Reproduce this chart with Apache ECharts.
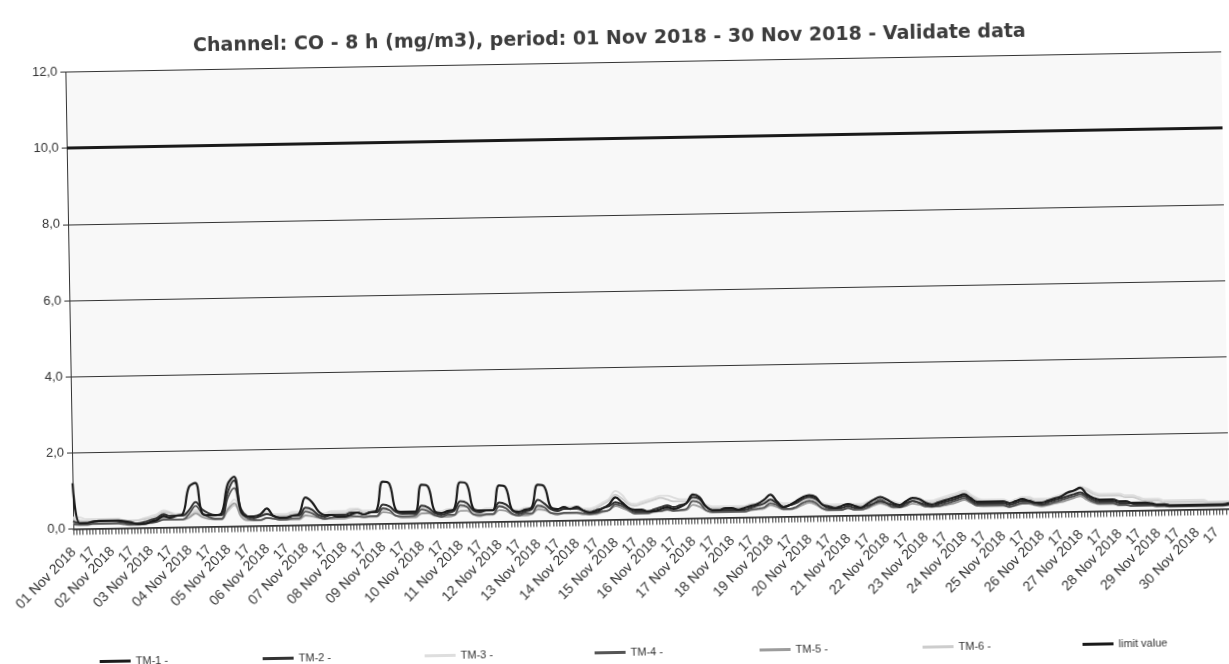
<!DOCTYPE html>
<html>
<head>
<meta charset="utf-8">
<script src="https://cdn.jsdelivr.net/npm/echarts@6/dist/echarts.min.js"></script>
<style>
html,body{margin:0;padding:0;background:#fff;overflow:hidden;}
#wrap{width:1229px;height:664px;transform:rotate(-1deg);transform-origin:50% 50%;}
#chart{width:1229px;height:664px;}
</style>
</head>
<body>
<div id="wrap"><div id="chart"></div></div>
<script>
const titleText = 'Channel: CO - 8 h (mg/m3), period: 01 Nov 2018 - 30 Nov 2018 - Validate data';
const days = ['01','02','03','04','05','06','07','08','09','10','11','12','13','14','15','16','17','18','19','20','21','22','23','24','25','26','27','28','29','30'].map(d => d + ' Nov 2018');
const hours = ['00','04','08','17','20','22'];
const tickHours = ['00','02','04','06','08','10','12','14','16','18','20','22'];
const hourLabel = '17';
const yTicks = [0, 2, 4, 6, 8, 10, 12];
const limitValue = 10;
const seriesNames = ['TM-1 -','TM-2 -','TM-3 -','TM-4 -','TM-5 -','TM-6 -','limit value'];

const tm1 = [
1.2,0.15,0.15,0.18,0.2,0.2,
0.2,0.2,0.18,0.15,0.1,0.1,
0.15,0.2,0.3,0.25,0.3,0.35,
1.05,1.15,0.35,0.3,0.3,0.35,
1.1,1.3,0.4,0.25,0.25,0.3,
0.45,0.25,0.2,0.2,0.25,0.3,
0.72,0.6,0.35,0.25,0.25,0.2,
0.2,0.25,0.3,0.25,0.3,0.35,
1.1,1.05,0.35,0.3,0.3,0.3,
1.0,0.95,0.3,0.25,0.3,0.35,
1.05,1.0,0.35,0.3,0.3,0.3,
0.95,0.9,0.3,0.25,0.3,0.35,
0.95,0.9,0.35,0.3,0.35,0.3,
0.35,0.25,0.2,0.25,0.3,0.4,
0.58,0.45,0.3,0.25,0.25,0.2,
0.2,0.25,0.3,0.25,0.3,0.4,
0.62,0.55,0.3,0.2,0.2,0.25,
0.25,0.2,0.25,0.3,0.35,0.45,
0.58,0.4,0.25,0.3,0.4,0.5,
0.55,0.5,0.3,0.25,0.2,0.25,
0.3,0.25,0.2,0.3,0.4,0.47,
0.4,0.3,0.25,0.35,0.43,0.4,
0.3,0.25,0.3,0.35,0.4,0.45,
0.5,0.4,0.3,0.3,0.3,0.3,
0.3,0.25,0.3,0.35,0.3,0.25,
0.25,0.3,0.35,0.4,0.5,0.55,
0.62,0.45,0.35,0.3,0.3,0.3,
0.25,0.25,0.2,0.2,0.2,0.18,
0.15,0.15,0.12,0.12,0.12,0.12,
0.12,0.12,0.12,0.12,0.12,0.15];

const tm2 = [
0.2,0.15,0.15,0.18,0.2,0.2,
0.2,0.18,0.15,0.12,0.12,0.15,
0.2,0.25,0.35,0.3,0.3,0.3,
0.45,0.65,0.45,0.35,0.3,0.3,
0.9,1.2,0.45,0.25,0.2,0.25,
0.3,0.25,0.2,0.2,0.25,0.25,
0.45,0.4,0.25,0.2,0.25,0.25,
0.25,0.3,0.3,0.25,0.3,0.3,
0.5,0.45,0.3,0.25,0.25,0.25,
0.45,0.4,0.25,0.2,0.25,0.3,
0.55,0.5,0.3,0.25,0.3,0.3,
0.5,0.45,0.3,0.2,0.25,0.3,
0.55,0.45,0.3,0.25,0.3,0.3,
0.3,0.25,0.2,0.2,0.3,0.35,
0.45,0.4,0.3,0.2,0.2,0.2,
0.25,0.3,0.35,0.3,0.35,0.4,
0.55,0.5,0.3,0.2,0.2,0.2,
0.2,0.2,0.2,0.25,0.3,0.35,
0.45,0.35,0.25,0.3,0.35,0.45,
0.5,0.45,0.3,0.2,0.2,0.2,
0.25,0.2,0.2,0.25,0.3,0.35,
0.3,0.25,0.2,0.3,0.35,0.3,
0.25,0.2,0.25,0.3,0.35,0.4,
0.45,0.35,0.25,0.25,0.25,0.25,
0.25,0.2,0.25,0.3,0.3,0.25,
0.2,0.25,0.3,0.35,0.4,0.45,
0.5,0.4,0.3,0.25,0.25,0.25,
0.2,0.2,0.18,0.15,0.15,0.15,
0.12,0.12,0.1,0.1,0.1,0.1,
0.1,0.1,0.1,0.1,0.1,0.12];

const tm3 = [
0.3,0.3,0.25,0.25,0.25,0.25,
0.25,0.25,0.2,0.2,0.2,0.25,
0.3,0.35,0.45,0.4,0.35,0.35,
0.4,0.45,0.35,0.3,0.3,0.3,
0.5,0.7,0.35,0.25,0.25,0.3,
0.35,0.3,0.3,0.3,0.35,0.35,
0.4,0.35,0.3,0.3,0.35,0.35,
0.35,0.4,0.4,0.35,0.35,0.35,
0.4,0.4,0.35,0.3,0.3,0.3,
0.4,0.4,0.3,0.3,0.35,0.35,
0.45,0.45,0.35,0.3,0.35,0.35,
0.45,0.4,0.3,0.3,0.35,0.35,
0.4,0.4,0.35,0.3,0.35,0.35,
0.35,0.3,0.3,0.35,0.45,0.55,
0.75,0.65,0.45,0.4,0.45,0.5,
0.55,0.6,0.6,0.55,0.5,0.5,
0.5,0.45,0.35,0.3,0.3,0.3,
0.3,0.3,0.3,0.35,0.35,0.4,
0.45,0.4,0.35,0.35,0.4,0.45,
0.5,0.45,0.35,0.3,0.3,0.3,
0.3,0.3,0.3,0.35,0.4,0.4,
0.4,0.35,0.3,0.35,0.4,0.4,
0.35,0.35,0.4,0.45,0.5,0.55,
0.6,0.5,0.4,0.35,0.35,0.35,
0.35,0.3,0.35,0.4,0.4,0.35,
0.35,0.35,0.4,0.45,0.5,0.55,
0.65,0.6,0.5,0.45,0.45,0.45,
0.45,0.4,0.4,0.35,0.3,0.3,
0.3,0.25,0.25,0.25,0.25,0.25,
0.25,0.25,0.2,0.2,0.2,0.2];

const tm4 = [
0.12,0.1,0.1,0.12,0.12,0.12,
0.12,0.12,0.1,0.08,0.08,0.1,
0.12,0.15,0.2,0.2,0.2,0.2,
0.35,0.55,0.35,0.25,0.2,0.2,
0.75,1.0,0.35,0.2,0.15,0.15,
0.2,0.18,0.15,0.15,0.18,0.18,
0.35,0.3,0.2,0.15,0.18,0.2,
0.2,0.22,0.2,0.18,0.2,0.2,
0.4,0.35,0.2,0.18,0.18,0.2,
0.35,0.3,0.2,0.15,0.2,0.2,
0.45,0.4,0.2,0.18,0.2,0.2,
0.4,0.35,0.2,0.15,0.2,0.2,
0.4,0.35,0.2,0.18,0.2,0.2,
0.2,0.18,0.15,0.18,0.22,0.25,
0.4,0.35,0.25,0.15,0.15,0.15,
0.2,0.2,0.25,0.2,0.22,0.25,
0.45,0.4,0.2,0.15,0.15,0.15,
0.15,0.15,0.15,0.2,0.22,0.25,
0.35,0.3,0.2,0.2,0.25,0.35,
0.4,0.35,0.2,0.15,0.15,0.15,
0.2,0.15,0.15,0.2,0.3,0.4,
0.3,0.2,0.2,0.25,0.35,0.3,
0.2,0.2,0.2,0.25,0.3,0.35,
0.4,0.3,0.2,0.2,0.2,0.2,
0.2,0.15,0.2,0.25,0.25,0.2,
0.18,0.2,0.25,0.3,0.35,0.4,
0.45,0.35,0.25,0.2,0.2,0.2,
0.15,0.15,0.12,0.12,0.12,0.12,
0.1,0.1,0.08,0.08,0.08,0.08,
0.08,0.08,0.08,0.08,0.08,0.1];

const tm5 = [
0.15,0.12,0.12,0.15,0.15,0.15,
0.15,0.15,0.12,0.1,0.1,0.12,
0.15,0.18,0.25,0.22,0.2,0.2,
0.25,0.35,0.25,0.2,0.18,0.18,
0.45,0.6,0.25,0.15,0.15,0.15,
0.2,0.18,0.15,0.15,0.15,0.15,
0.25,0.22,0.18,0.15,0.15,0.15,
0.15,0.18,0.2,0.18,0.18,0.18,
0.3,0.28,0.2,0.15,0.15,0.15,
0.25,0.25,0.18,0.15,0.15,0.18,
0.3,0.3,0.2,0.15,0.18,0.18,
0.3,0.28,0.18,0.15,0.15,0.18,
0.3,0.28,0.2,0.15,0.18,0.18,
0.18,0.15,0.15,0.15,0.2,0.25,
0.35,0.3,0.22,0.15,0.15,0.15,
0.18,0.2,0.22,0.2,0.2,0.22,
0.35,0.3,0.2,0.15,0.15,0.15,
0.15,0.15,0.15,0.18,0.2,0.22,
0.3,0.25,0.18,0.18,0.22,0.3,
0.35,0.3,0.2,0.15,0.15,0.15,
0.18,0.15,0.15,0.18,0.25,0.3,
0.25,0.18,0.18,0.22,0.28,0.25,
0.2,0.18,0.2,0.22,0.25,0.3,
0.35,0.28,0.2,0.18,0.18,0.18,
0.18,0.15,0.18,0.22,0.22,0.18,
0.15,0.18,0.22,0.25,0.3,0.35,
0.4,0.3,0.22,0.18,0.18,0.18,
0.15,0.15,0.12,0.12,0.12,0.12,
0.1,0.1,0.1,0.1,0.1,0.1,
0.1,0.1,0.1,0.1,0.1,0.12];

const tm6 = [
0.25,0.22,0.2,0.2,0.2,0.2,
0.2,0.2,0.18,0.18,0.2,0.22,
0.25,0.3,0.4,0.38,0.3,0.3,
0.3,0.4,0.3,0.25,0.25,0.25,
0.4,0.55,0.3,0.2,0.2,0.25,
0.3,0.25,0.25,0.25,0.3,0.3,
0.35,0.3,0.25,0.25,0.3,0.3,
0.3,0.35,0.38,0.3,0.3,0.3,
0.35,0.35,0.3,0.25,0.25,0.25,
0.35,0.35,0.25,0.25,0.3,0.3,
0.4,0.4,0.3,0.25,0.3,0.3,
0.4,0.35,0.25,0.25,0.3,0.3,
0.35,0.35,0.3,0.25,0.3,0.3,
0.3,0.25,0.25,0.3,0.4,0.5,
0.65,0.55,0.4,0.35,0.4,0.45,
0.5,0.55,0.5,0.45,0.45,0.45,
0.45,0.4,0.3,0.25,0.25,0.25,
0.25,0.25,0.25,0.3,0.3,0.35,
0.4,0.35,0.3,0.3,0.35,0.4,
0.45,0.4,0.3,0.25,0.25,0.25,
0.25,0.25,0.25,0.3,0.35,0.35,
0.35,0.3,0.25,0.3,0.35,0.35,
0.3,0.3,0.35,0.4,0.45,0.5,
0.55,0.45,0.35,0.3,0.3,0.3,
0.3,0.25,0.3,0.35,0.35,0.3,
0.3,0.3,0.35,0.4,0.45,0.5,
0.6,0.55,0.45,0.4,0.4,0.4,
0.4,0.35,0.35,0.3,0.25,0.25,
0.25,0.2,0.2,0.2,0.2,0.2,
0.2,0.2,0.18,0.18,0.18,0.18];

const categories = [];
days.forEach(d => hours.forEach(h => categories.push(d + ' ' + h)));
const tickCategories = [];
days.forEach(d => tickHours.forEach(h => tickCategories.push(d + ' ' + h)));

const seriesData = [tm1, tm2, tm3, tm4, tm5, tm6];
const colors = ['#1c1c1c', '#333333', '#dedede', '#555555', '#9c9c9c', '#cdcdcd', '#1a1a1a'];
const widths = [2.2, 2, 1.8, 1.8, 1.8, 1.8];
const zs = [8, 7, 3, 6, 5, 4];
const legendLefts = [89, 252, 414, 584, 749, 912, 1072];

const chart = echarts.init(document.getElementById('chart'), null, {renderer: 'canvas'});
const series = seriesData.map((d, i) => ({
  name: seriesNames[i],
  type: 'line',
  data: d,
  smooth: 0.4,
  showSymbol: false,
  z: zs[i],
  lineStyle: {color: colors[i], width: widths[i]},
  itemStyle: {color: colors[i]}
}));
series.push({
  name: seriesNames[6],
  type: 'line',
  data: [],
  z: 9,
  lineStyle: {color: colors[6], width: 3},
  itemStyle: {color: colors[6]},
  markLine: {
    silent: true,
    symbol: ['none', 'none'],
    label: {show: false},
    lineStyle: {color: colors[6], width: 3, type: 'solid'},
    data: [{yAxis: limitValue}]
  }
});

const legends = seriesNames.map((n, i) => ({
  data: [n],
  left: legendLefts[i],
  top: 642,
  icon: 'rect',
  itemWidth: 31,
  itemHeight: 3,
  itemGap: 5,
  textStyle: {fontFamily: 'Liberation Sans', fontSize: 11, color: '#333'}
}));

chart.setOption({
  animation: false,
  backgroundColor: '#ffffff',
  color: colors,
  title: {
    text: titleText,
    left: 'center',
    top: 25,
    textStyle: {fontFamily: 'DejaVu Sans', fontWeight: 'bold', fontSize: 19, color: '#3c3c3c'}
  },
  legend: legends,
  grid: {
    left: 70, right: 3, top: 62.5, bottom: 144.5,
    show: true, backgroundColor: '#f8f8f8', borderWidth: 0
  },
  xAxis: [{
    type: 'category',
    data: categories,
    boundaryGap: false,
    axisLine: {lineStyle: {color: '#333', width: 1.5}},
    axisTick: {show: false},
    axisLabel: {
      interval: 0,
      rotate: 45,
      margin: 21,
      fontFamily: 'Liberation Sans',
      fontSize: 14,
      color: '#333',
      formatter: v => {
        const h = v.slice(-2);
        if (h === hours[0]) return v.slice(0, -3);
        if (h === hourLabel) return hourLabel;
        return '';
      }
    },
    splitLine: {show: false}
  }, {
    type: 'category',
    data: tickCategories,
    position: 'bottom',
    boundaryGap: false,
    axisLine: {show: false},
    axisTick: {show: true, interval: 0, length: 6, lineStyle: {color: '#3a3a3a', width: 1}},
    axisLabel: {show: false},
    splitLine: {show: false}
  }],
  yAxis: {
    type: 'value',
    min: yTicks[0],
    max: yTicks[yTicks.length - 1],
    interval: 2,
    axisLine: {show: true, lineStyle: {color: '#333', width: 1}},
    axisTick: {show: true, length: 5, lineStyle: {color: '#333'}},
    axisLabel: {
      fontFamily: 'Liberation Sans', fontSize: 13, color: '#333', margin: 8,
      formatter: v => v.toFixed(1).replace('.', ',')
    },
    splitLine: {show: true, lineStyle: {color: '#333', width: 1}}
  },
  series: series
});
</script>
</body>
</html>
